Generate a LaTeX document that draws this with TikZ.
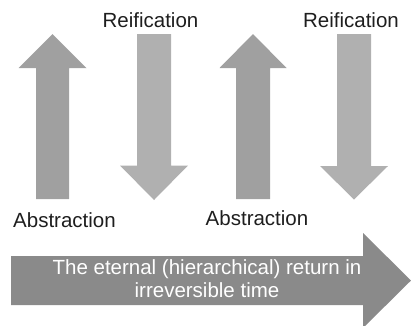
\documentclass[tikz,border=0pt]{standalone}
\usepackage{fontspec}
\setmainfont{Liberation Sans}
\definecolor{upgray}{HTML}{A0A0A0}
\definecolor{downgray}{HTML}{B0B0B0}
\definecolor{timegray}{HTML}{8A8A8A}
\definecolor{txt}{HTML}{1E1E1E}
\tikzset{
  lbl/.style={font=\fontsize{20.5}{24}\selectfont, text=txt, anchor=base, inner sep=0pt},
  inlbl/.style={font=\fontsize{20.5}{24}\selectfont, text=white, anchor=base, inner sep=0pt},
  uparrow/.style={fill=upgray, draw=none},
  downarrow/.style={fill=downgray, draw=none},
  timearrow/.style={fill=timegray, draw=none}
}
\begin{document}
\begin{tikzpicture}[x=1pt,y=-1pt]
\useasboundingbox (0,0) rectangle (411,325);
\begin{scope}
\clip (0,0) rectangle (411,325);
% up arrow 1
\fill[uparrow] (36,199) -- (36,68) -- (18.5,68) -- (52.5,34) -- (86.5,68) -- (69,68) -- (69,199) -- cycle;
% down arrow 1
\fill[downarrow] (137,34) -- (137,165.5) -- (120,165.5) -- (154,200) -- (188,165.5) -- (171,165.5) -- (171,34) -- cycle;
% up arrow 2
\fill[uparrow] (236,199) -- (236,68) -- (219.5,68) -- (253,34) -- (286.5,68) -- (270,68) -- (270,199) -- cycle;
% down arrow 2
\fill[downarrow] (337,34) -- (337,166) -- (320,166) -- (354,199.5) -- (388,166) -- (371,166) -- (371,34) -- cycle;
% time arrow
\fill[timearrow] (11,256) -- (363,256) -- (363,233) -- (411,280.5) -- (363,328) -- (363,305) -- (11,305) -- cycle;
\end{scope}
\node[lbl] (reif1) at (150.5,27) {Reification};
\node[lbl] (reif2) at (351,27) {Reification};
\node[lbl] (abs1) at (64.5,227) {Abstraction};
\node[lbl] (abs2) at (257,225) {Abstraction};
\node[inlbl] (time1) at (207,274) {The eternal (hierarchical) return in};
\node[inlbl] (time2) at (207,297) {irreversible time};
\end{tikzpicture}
\end{document}
